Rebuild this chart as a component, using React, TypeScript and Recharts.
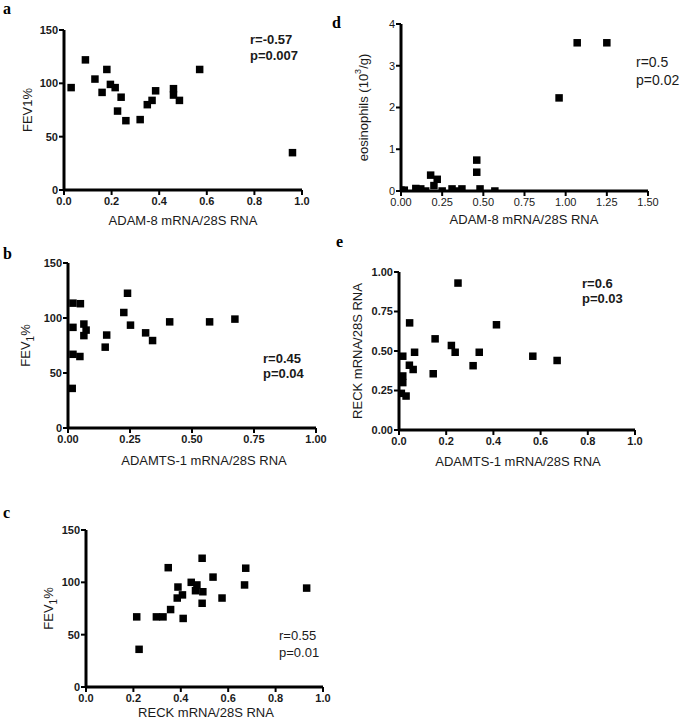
import React from "react";
import { ScatterChart, Scatter, XAxis, YAxis } from "recharts";

const FONT = "Arial, 'Liberation Sans', Helvetica, sans-serif";
const SERIF = "'Times New Roman', 'Liberation Serif', serif";

// a: ADAM-8 mRNA vs FEV1%
const adam8FevX = [0.03, 0.09, 0.13, 0.18, 0.16, 0.195, 0.215, 0.24, 0.225, 0.26, 0.32, 0.35, 0.37, 0.385, 0.46, 0.46, 0.485, 0.57, 0.96];
const adam8FevY = [96, 122, 104, 113, 91.5, 99, 96, 87, 74, 65, 66, 80, 84, 93, 95, 89, 84, 113, 35];

// b: ADAMTS-1 mRNA vs FEV1%
const adamts1FevX = [0.02, 0.05, 0.02, 0.064, 0.073, 0.064, 0.02, 0.048, 0.017, 0.15, 0.156, 0.225, 0.24, 0.252, 0.313, 0.341, 0.41, 0.571, 0.673];
const adamts1FevY = [113.5, 113, 91.5, 94.5, 89, 84, 67, 65, 36, 73.5, 84.5, 105, 122.5, 93.5, 86.5, 79.5, 96.5, 96.5, 99];

// c: RECK mRNA vs FEV1%
const reckFevX = [0.214, 0.224, 0.297, 0.325, 0.357, 0.347, 0.388, 0.385, 0.407, 0.41, 0.444, 0.468, 0.462, 0.493, 0.49, 0.49, 0.536, 0.574, 0.669, 0.674, 0.931];
const reckFevY = [67, 36, 67, 67, 74, 114, 95.5, 85, 88, 65.5, 100, 97.5, 92, 91, 123, 80, 105, 85, 97.5, 113.5, 94.5];

// d: ADAM-8 mRNA vs eosinophils
const adam8EosX = [0.0, 0.02, 0.09, 0.12, 0.15, 0.18, 0.2, 0.22, 0.25, 0.31, 0.34, 0.37, 0.46, 0.46, 0.48, 0.57, 0.96, 1.07, 1.25];
const adam8EosY = [0.02, 0.02, 0.06, 0.05, 0.0, 0.38, 0.13, 0.28, 0.0, 0.05, 0.0, 0.05, 0.74, 0.45, 0.05, 0.0, 2.23, 3.55, 3.55];

// e: ADAMTS-1 mRNA vs RECK mRNA
const adamts1ReckX = [0.25, 0.045, 0.413, 0.153, 0.222, 0.238, 0.34, 0.066, 0.016, 0.044, 0.06, 0.314, 0.145, 0.016, 0.016, 0.01, 0.03, 0.567, 0.67];
const adamts1ReckY = [0.93, 0.678, 0.666, 0.577, 0.535, 0.492, 0.492, 0.492, 0.467, 0.41, 0.383, 0.407, 0.356, 0.342, 0.3, 0.232, 0.215, 0.467, 0.44];

const fevTicks = [0, 50, 100, 150];
const tenthTicks = [0, 0.2, 0.4, 0.6, 0.8, 1.0];
const quarterTicks = [0, 0.25, 0.5, 0.75, 1.0];
const eosXTicks = [0, 0.25, 0.5, 0.75, 1.0, 1.25, 1.5];
const eosYTicks = [0, 1, 2, 3, 4];

const toPoints = (xs: number[], ys: number[]) => xs.map((x, i) => ({ x, y: ys[i] }));
const fmt1 = (v: number) => v.toFixed(1);
const fmt2 = (v: number) => v.toFixed(2);
const fmt0 = (v: number) => String(v);

const Square = (props: any) => {
  const { cx, cy } = props;
  const s = 7.5;
  return <rect x={cx - s / 2} y={cy - s / 2} width={s} height={s} fill="#000" />;
};

interface PanelProps {
  left: number;
  top: number;
  width: number;
  height: number;
  plotTop: number;
  plotRight: number;
  yWidth: number;
  xHeight: number;
  xDomain: [number, number];
  xTicks: number[];
  xFmt: (v: number) => string;
  yDomain: [number, number];
  yTicks: number[];
  yFmt: (v: number) => string;
  data: { x: number; y: number }[];
  xTitle: React.ReactNode;
  xTitleX: number;
  xTitleDy: number;
  yTitle: React.ReactNode;
  yTitleX: number;
  stats: string[];
  statsX: number;
  statsY: number;
  statsSize: number;
  statsGap: number;
  statsBold: boolean;
  tickBold: boolean;
}

function Panel(p: PanelProps) {
  const tickStyle = {
    fontSize: 11,
    fontWeight: p.tickBold ? 700 : 400,
    fill: "#1a1a1a",
    fontFamily: FONT,
  };
  return (
    <div style={{ position: "absolute", left: p.left, top: p.top, fontFamily: FONT }}>
      <ScatterChart
        width={p.width}
        height={p.height}
        margin={{ top: p.plotTop, right: p.width - p.plotRight, left: 0, bottom: 0 }}
      >
        <XAxis
          type="number"
          dataKey="x"
          domain={p.xDomain}
          ticks={p.xTicks}
          tickFormatter={p.xFmt}
          interval={0}
          height={p.xHeight}
          allowDataOverflow
          axisLine={{ stroke: "#000", strokeWidth: 3 }}
          tickLine={{ stroke: "#000", strokeWidth: 2 }}
          tickSize={5}
          tickMargin={2}
          tick={tickStyle}
          label={(lp: any) => (
            <text
              x={p.xTitleX}
              y={lp.viewBox.y + p.xTitleDy}
              textAnchor="middle"
              dominantBaseline="central"
              style={{ fontFamily: FONT, fontSize: 13 }}
              fill="#1a1a1a"
            >
              {p.xTitle}
            </text>
          )}
        />
        <YAxis
          type="number"
          dataKey="y"
          domain={p.yDomain}
          ticks={p.yTicks}
          tickFormatter={p.yFmt}
          interval={0}
          width={p.yWidth}
          allowDataOverflow
          axisLine={{ stroke: "#000", strokeWidth: 3 }}
          tickLine={{ stroke: "#000", strokeWidth: 2 }}
          tickSize={5}
          tickMargin={1}
          tick={tickStyle}
          label={(lp: any) => {
            const cy = lp.viewBox.y + lp.viewBox.height / 2;
            return (
              <text
                x={p.yTitleX}
                y={cy}
                transform={`rotate(-90, ${p.yTitleX}, ${cy})`}
                textAnchor="middle"
                dominantBaseline="central"
                style={{ fontFamily: FONT, fontSize: 13 }}
                fill="#1a1a1a"
              >
                {p.yTitle}
              </text>
            );
          }}
        />
        <Scatter data={p.data} shape={Square} isAnimationActive={false} />
        {p.stats.map((s, i) => (
          <text
            key={i}
            x={p.statsX}
            y={p.statsY + i * p.statsGap}
            dominantBaseline="central"
            style={{
              fontFamily: FONT,
              fontSize: p.statsSize,
              fontWeight: p.statsBold ? 700 : 400,
            }}
            fill="#1a1a1a"
          >
            {s}
          </text>
        ))}
      </ScatterChart>
    </div>
  );
}

const Letter = ({ ch, left, top }: { ch: string; left: number; top: number }) => (
  <div
    style={{
      position: "absolute",
      left,
      top,
      fontFamily: SERIF,
      fontWeight: 700,
      fontSize: 16,
      lineHeight: "18px",
    }}
  >
    {ch}
  </div>
);

const fevSub = (
  <>
    FEV<tspan baselineShift="sub" fontSize={10}>1</tspan>%
  </>
);

export default function App() {
  return (
    <div
      style={{
        position: "absolute",
        left: 0,
        top: 0,
        width: 685,
        height: 722,
        background: "#fff",
        overflow: "hidden",
        fontFamily: FONT,
      }}
    >
      <Panel
        left={0}
        top={0}
        width={330}
        height={232}
        plotTop={30}
        plotRight={302}
        yWidth={64}
        xHeight={42}
        xDomain={[0, 1]}
        xTicks={tenthTicks}
        xFmt={fmt1}
        yDomain={[0, 150]}
        yTicks={fevTicks}
        yFmt={fmt0}
        data={toPoints(adam8FevX, adam8FevY)}
        xTitle="ADAM-8 mRNA/28S RNA"
        xTitleX={183}
        xTitleDy={30}
        yTitle="FEV1%"
        yTitleX={27}
        stats={["r=-0.57", "p=0.007"]}
        statsX={250}
        statsY={39}
        statsSize={13}
        statsGap={16}
        statsBold
        tickBold
      />
      <Panel
        left={330}
        top={0}
        width={355}
        height={232}
        plotTop={24}
        plotRight={318}
        yWidth={71}
        xHeight={41}
        xDomain={[0, 1.5]}
        xTicks={eosXTicks}
        xFmt={fmt2}
        yDomain={[0, 4]}
        yTicks={eosYTicks}
        yFmt={fmt0}
        data={toPoints(adam8EosX, adam8EosY)}
        xTitle="ADAM-8 mRNA/28S RNA"
        xTitleX={194}
        xTitleDy={28}
        yTitle={
          <>
            eosinophils (10<tspan baselineShift="super" fontSize={9}>3</tspan>/g)
          </>
        }
        yTitleX={33}
        stats={["r=0.5", "p=0.02"]}
        statsX={306}
        statsY={62}
        statsSize={14}
        statsGap={18}
        statsBold={false}
        tickBold={false}
      />
      <Panel
        left={0}
        top={232}
        width={330}
        height={240}
        plotTop={31}
        plotRight={316}
        yWidth={68}
        xHeight={44}
        xDomain={[0, 1]}
        xTicks={quarterTicks}
        xFmt={fmt2}
        yDomain={[0, 150]}
        yTicks={fevTicks}
        yFmt={fmt0}
        data={toPoints(adamts1FevX, adamts1FevY)}
        xTitle="ADAMTS-1 mRNA/28S RNA"
        xTitleX={204}
        xTitleDy={32}
        yTitle={fevSub}
        yTitleX={25}
        stats={["r=0.45", "p=0.04"]}
        statsX={263}
        statsY={126}
        statsSize={13}
        statsGap={15}
        statsBold
        tickBold
      />
      <Panel
        left={330}
        top={232}
        width={355}
        height={240}
        plotTop={40}
        plotRight={305}
        yWidth={69}
        xHeight={42}
        xDomain={[0, 1]}
        xTicks={tenthTicks}
        xFmt={fmt1}
        yDomain={[0, 1]}
        yTicks={quarterTicks}
        yFmt={fmt2}
        data={toPoints(adamts1ReckX, adamts1ReckY)}
        xTitle="ADAMTS-1 mRNA/28S RNA"
        xTitleX={188}
        xTitleDy={31}
        yTitle="RECK mRNA/28S RNA"
        yTitleX={27}
        stats={["r=0.6", "p=0.03"]}
        statsX={252}
        statsY={51}
        statsSize={13}
        statsGap={15}
        statsBold
        tickBold
      />
      <Panel
        left={0}
        top={472}
        width={340}
        height={250}
        plotTop={58}
        plotRight={323}
        yWidth={86}
        xHeight={35}
        xDomain={[0, 1]}
        xTicks={tenthTicks}
        xFmt={fmt1}
        yDomain={[0, 150]}
        yTicks={fevTicks}
        yFmt={fmt0}
        data={toPoints(reckFevX, reckFevY)}
        xTitle="RECK mRNA/28S RNA"
        xTitleX={206}
        xTitleDy={25}
        yTitle={fevSub}
        yTitleX={48}
        stats={["r=0.55", "p=0.01"]}
        statsX={279}
        statsY={163}
        statsSize={13}
        statsGap={17}
        statsBold={false}
        tickBold
      />
      <Letter ch="a" left={3} top={0} />
      <Letter ch="b" left={3} top={245} />
      <Letter ch="c" left={3} top={504} />
      <Letter ch="d" left={332} top={14} />
      <Letter ch="e" left={336} top={233} />
    </div>
  );
}
